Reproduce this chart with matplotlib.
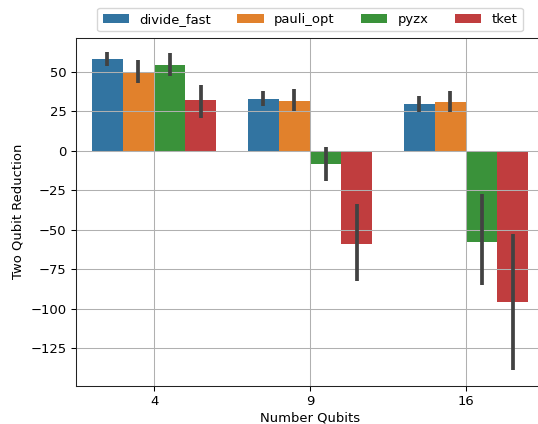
import matplotlib
matplotlib.use("Agg")
import matplotlib.pyplot as plt
import numpy as np

categories = ["4", "9", "16"]
methods = ["divide_fast", "pauli_opt", "pyzx", "tket"]
colors = ["#3274a1", "#e1812c", "#3a923a", "#c03d3e"]

values = {
    "divide_fast": [58.0, 32.9, 29.7],
    "pauli_opt": [50.0, 31.6, 31.0],
    "pyzx": [54.2, -8.7, -58.0],
    "tket": [32.1, -59.3, -96.0],
}
ci_low = {
    "divide_fast": [53.4, 28.0, 24.2],
    "pauli_opt": [43.0, 24.9, 24.2],
    "pyzx": [47.5, -19.0, -84.8],
    "tket": [20.9, -82.5, -139.0],
}
ci_high = {
    "divide_fast": [62.7, 38.0, 34.4],
    "pauli_opt": [57.4, 39.0, 37.8],
    "pyzx": [61.6, 2.3, -27.2],
    "tket": [41.4, -33.5, -52.7],
}

s = 0.944
plt.rcParams.update({
    "font.size": 10 * s,
    "axes.linewidth": 0.8 * s,
    "grid.linewidth": 0.8 * s,
    "xtick.major.width": 0.8 * s,
    "ytick.major.width": 0.8 * s,
    "xtick.major.size": 3.5 * s,
    "ytick.major.size": 3.5 * s,
    "axes.edgecolor": "#222222",
})

fig = plt.figure(figsize=(5.38, 4.24), dpi=100)
ax = fig.add_axes([0.1413, 0.0903, 0.870, 0.8208])

x = np.arange(len(categories))
n = len(methods)
width = 0.8 / n
for i, m in enumerate(methods):
    pos = x - 0.4 + width * (i + 0.5)
    ax.bar(pos, values[m], width=width, color=colors[i], label=m)
    ax.vlines(pos, ci_low[m], ci_high[m], color="#424242", linewidth=2.7, zorder=3)

ax.set_xticks(x)
ax.set_xticklabels(categories)
ax.set_xlim(-0.5, 2.5)
ax.set_ylim(-148.7, 71.5)
ax.set_yticks([-125, -100, -75, -50, -25, 0, 25, 50])
ax.grid(True)
ax.set_xlabel("Number Qubits", labelpad=2.5)
ax.set_ylabel("Two Qubit Reduction")
ax.legend(loc="lower center", bbox_to_anchor=(0.5, 1.0), ncol=4)

fig.savefig("out.png", dpi=100)
